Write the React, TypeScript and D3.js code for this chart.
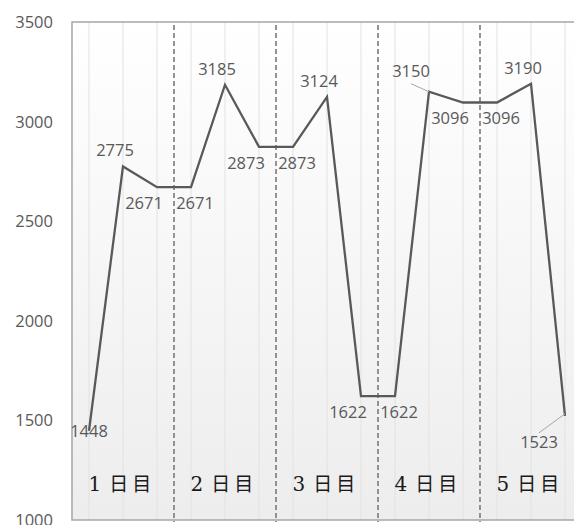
import React from "react";
import * as d3 from "d3";

const values = [1448, 2775, 2671, 2671, 3185, 2873, 2873, 3124, 1622, 1622, 3150, 3096, 3096, 3190, 1523];
const labelPlacement = ["c", "t", "bl", "br", "t", "bl", "br", "t", "bl", "br", "tlLead", "bl", "br", "t", "blLead"];
const dayLabels = ["1", "2", "3", "4", "5"];
const dayBoundaries = [2, 5, 8, 11]; // boundary after index
const yTicks = [1000, 1500, 2000, 2500, 3000, 3500];

const W = 574, H = 525;
const left = 72, right = 582, top = 22, bottom = 520;
const textColor = "#595959";

export default function App() {
  const x = d3.scaleBand<number>().domain(values.map((_, i) => i)).range([left, right]).padding(0);
  const cx = (i: number) => (x(i) as number) + x.bandwidth() / 2;
  const y = d3.scaleLinear().domain([1000, 3500]).range([bottom, top]);
  const line = d3.line<number>().x((_, i) => cx(i)).y((d) => y(d));

  const offsets: Record<string, [number, number]> = {
    c: [0, 6],
    t: [-8, -10],
    bl: [-13, 22],
    br: [4, 22],
    tlLead: [-18, -15],
    blLead: [-26, 32],
  };

  const edges = [left, ...dayBoundaries.map((b) => (cx(b) + cx(b + 1)) / 2), right];

  return (
    <svg width={W} height={H} style={{ position: "absolute", left: 0, top: 0 }} fontFamily="'Open Sans', sans-serif">
      <defs>
        <linearGradient id="bg" x1="0" y1="0" x2="0" y2="1">
          <stop offset="0" stopColor="#ffffff" />
          <stop offset="1" stopColor="#ededed" />
        </linearGradient>
      </defs>
      <rect x={0} y={0} width={W} height={H} fill="#fff" />
      <rect x={left} y={top} width={right - left} height={bottom - top} fill="url(#bg)" />
      {values.map((_, i) => (
        <line key={"g" + i} x1={cx(i)} x2={cx(i)} y1={top} y2={bottom} stroke="#e2e2e2" strokeWidth={1} />
      ))}
      <rect x={left} y={top} width={right - left} height={bottom - top} fill="none" stroke="#a6a6a6" strokeWidth={1.5} />
      {yTicks.map((t) => (
        <text key={t} x={53} y={y(t)} dy="0.36em" textAnchor="end" fontSize={16.5} fill={textColor}>
          {t}
        </text>
      ))}
      {dayBoundaries.map((b, i) => {
        const bx = (cx(b) + cx(b + 1)) / 2;
        return (
          <line key={"d" + i} x1={bx} x2={bx} y1={25} y2={522} stroke="#7a7a7a" strokeWidth={1.6} strokeDasharray="5,3" />
        );
      })}
      <path d={line(values) || ""} fill="none" stroke="#595959" strokeWidth={2.3} strokeLinejoin="miter" />
      {values.map((v, i) => {
        const p = labelPlacement[i];
        const [dx, dy] = offsets[p];
        const lx = cx(i) + dx;
        const ly = y(v) + dy;
        return (
          <g key={"l" + i}>
            {p === "tlLead" && (
              <line x1={lx} x2={cx(i)} y1={ly + 7} y2={y(v)} stroke="#a6a6a6" strokeWidth={1} />
            )}
            {p === "blLead" && (
              <line x1={lx} x2={cx(i)} y1={ly - 15} y2={y(v) - 2} stroke="#a6a6a6" strokeWidth={1} />
            )}
            <text x={lx} y={ly} textAnchor="middle" fontSize={16.5} fill={textColor}>
              {v}
            </text>
          </g>
        );
      })}
      {dayLabels.map((d, i) => {
        const c = (edges[i] + edges[i + 1]) / 2;
        return (
          <text key={"day" + i} x={c - 3} y={491} textAnchor="middle" fill="#1a1a1a">
            <tspan fontFamily="'DejaVu Serif', serif" fontSize={20} fill="#1a1a1a">{d}</tspan>
            <tspan fontFamily="'Noto Sans CJK JP', sans-serif" fontSize={19} fill="#1a1a1a" dx={8}>日</tspan>
            <tspan fontFamily="'Noto Sans CJK JP', sans-serif" fontSize={19} fill="#1a1a1a" dx={4}>目</tspan>
          </text>
        );
      })}
    </svg>
  );
}
